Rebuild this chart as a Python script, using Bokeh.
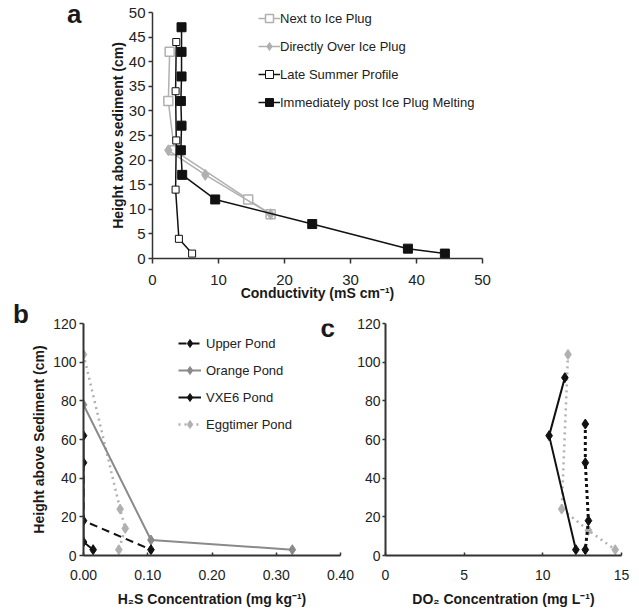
from bokeh.plotting import figure
from bokeh.layouts import column, row
from bokeh.models import Range1d, Legend, LegendItem, Label, FixedTicker, NumeralTickFormatter, Div
from bokeh.embed import file_html
from bokeh.resources import INLINE

FONT = "Liberation Sans"

# ---------------- data: panel a (conductivity) ----------------
next_x = [2.6, 2.4, 3.3, 14.5, 17.9]
next_y = [42, 32, 22, 12, 9]
over_x = [2.4, 8.0, 17.9]
over_y = [22, 17, 9]
late_x = [3.6, 3.5, 3.6, 3.5, 4.0, 6.0]
late_y = [44, 34, 24, 14, 4, 1]
post_x = [4.4, 4.4, 4.4, 4.3, 4.4, 4.3, 4.5, 9.5, 24.2, 38.7, 44.3]
post_y = [47, 42, 37, 32, 27, 22, 17, 12, 7, 2, 1]
a_xticks = [0, 10, 20, 30, 40, 50]
a_yticks = [0, 5, 10, 15, 20, 25, 30, 35, 40, 45, 50]

# ---------------- data: panel b (H2S) ----------------
b_upper_x = [0.0, 0.0, 0.105]
b_upper_y = [48, 18, 3]
b_orange_x = [0.0, 0.105, 0.325]
b_orange_y = [78, 8, 3]
b_vxe6_x = [0.0, 0.0, 0.015]
b_vxe6_y = [62, 7, 3]
b_egg_x = [0.0, 0.057, 0.065, 0.055]
b_egg_y = [104, 24, 14, 3]
b_xticks = [0.0, 0.1, 0.2, 0.3, 0.4]
bc_yticks = [0, 20, 40, 60, 80, 100, 120]

# ---------------- data: panel c (DO2) ----------------
c_upper_x = [12.7, 12.7, 12.9, 12.7]
c_upper_y = [68, 48, 18, 3]
c_vxe6_x = [11.4, 10.4, 12.1]
c_vxe6_y = [92, 62, 3]
c_egg_x = [11.6, 11.2, 12.9, 14.6]
c_egg_y = [104, 24, 13, 3]
c_xticks = [0, 5, 10, 15]

BLACK = "#111111"
GRAY = "#8a8a8a"
LGRAY = "#b0b0b0"
TXT = "#1a1a1a"


def style_axes(p, tick_size, line_w, x_tick_in, x_tick_out, x_standoff):
    p.outline_line_color = None
    p.xgrid.grid_line_color = None
    p.ygrid.grid_line_color = None
    for ax in (p.xaxis[0], p.yaxis[0]):
        ax.axis_line_color = "#333333"
        ax.axis_line_width = line_w
        ax.major_tick_line_color = "#333333"
        ax.major_tick_line_width = 1.5
        ax.minor_tick_line_color = None
        ax.major_label_text_font = FONT
        ax.major_label_text_font_size = tick_size
        ax.major_label_text_color = "#222222"
        ax.axis_label_text_font = FONT
        ax.axis_label_text_font_size = "14px"
        ax.axis_label_text_font_style = "bold"
        ax.axis_label_text_color = TXT
    p.yaxis.major_tick_in = 0
    p.yaxis.major_tick_out = 4
    p.yaxis.major_label_standoff = 3
    p.xaxis.major_tick_in = x_tick_in
    p.xaxis.major_tick_out = x_tick_out
    p.xaxis.major_label_standoff = x_standoff


def letter_div(letter, w, h, left, top):
    html = ('<div style="position:relative; left:%dpx; top:%dpx; font-family:\'Liberation Sans\', Arial, sans-serif; '
            'font-size:26px; font-weight:bold; line-height:26px; color:%s; margin:0; padding:0;">%s</div>'
            % (left, top, TXT, letter))
    return Div(text=html, width=w, height=h, margin=0)


# ================= panel a =================
HA = 304
div_a = letter_div("a", 100, HA, 67, 1)

pa = figure(width=539, height=HA, x_range=Range1d(0, 50), y_range=Range1d(0, 50),
            output_backend="svg", toolbar_location=None,
            min_border_left=52, min_border_right=157, min_border_top=12, min_border_bottom=46)
style_axes(pa, "15px", 1.5, 0, 5, 11)
pa.xaxis.ticker = FixedTicker(ticks=a_xticks)
pa.yaxis.ticker = FixedTicker(ticks=a_yticks)
pa.xaxis.axis_label = "Conductivity (mS cm⁻¹)"
pa.xaxis.axis_label_standoff = -3
pa.yaxis.axis_label = "Height above sediment (cm)"
pa.yaxis.axis_label_standoff = 0

l1 = pa.line(next_x, next_y, line_color=LGRAY, line_width=1.5)
m1 = pa.scatter(next_x, next_y, marker="square", size=9, fill_color="white", line_color=LGRAY, line_width=1.5)
l2 = pa.line(over_x, over_y, line_color=LGRAY, line_width=1.5)
m2 = pa.scatter(over_x, over_y, marker="diamond", size=11, fill_color=LGRAY, line_color=LGRAY)
l3 = pa.line(late_x, late_y, line_color=BLACK, line_width=1.5)
m3 = pa.scatter(late_x, late_y, marker="square", size=7, fill_color="white", line_color=BLACK, line_width=1)
l4 = pa.line(post_x, post_y, line_color=BLACK, line_width=1.5)
m4 = pa.scatter(post_x, post_y, marker="square", size=9, fill_color=BLACK, line_color=BLACK)

leg_a = Legend(items=[
    LegendItem(label="Next to Ice Plug", renderers=[l1, m1]),
    LegendItem(label="Directly Over Ice Plug", renderers=[l2, m2]),
    LegendItem(label="Late Summer Profile", renderers=[l3, m3]),
    LegendItem(label="Immediately post Ice Plug Melting", renderers=[l4, m4]),
], location=(106, 146), padding=0, margin=0, spacing=8, glyph_width=22, glyph_height=20,
    label_height=20, label_standoff=0, label_text_font=FONT, label_text_font_size="13px",
    label_text_color="#222222", background_fill_alpha=0, border_line_color=None)
pa.add_layout(leg_a, "center")

# ================= panel b =================
HB = 310
div_b = letter_div("b", 28, HB, 13, -3)

pb = figure(width=326, height=HB, x_range=Range1d(0, 0.4), y_range=Range1d(0, 120),
            output_backend="svg", toolbar_location=None,
            min_border_left=54, min_border_right=14, min_border_top=19, min_border_bottom=59)
style_axes(pb, "14px", 2, 3, 0, 14)
pb.xaxis.ticker = FixedTicker(ticks=b_xticks)
pb.yaxis.ticker = FixedTicker(ticks=bc_yticks)
pb.xaxis.formatter = NumeralTickFormatter(format="0.00")
pb.xaxis.axis_label = "H₂S Concentration (mg kg⁻¹)"
pb.xaxis.axis_label_standoff = 8
pb.yaxis.axis_label = "Height above Sediment (cm)"
pb.yaxis.axis_label_standoff = 3

eb = pb.line(b_egg_x, b_egg_y, line_color=LGRAY, line_width=2.5, line_dash="2 4")
ebm = pb.scatter(b_egg_x, b_egg_y, marker="diamond", size=10, fill_color=LGRAY, line_color=LGRAY)
ob = pb.line(b_orange_x, b_orange_y, line_color=GRAY, line_width=2)
obm = pb.scatter(b_orange_x, b_orange_y, marker="diamond", size=10, fill_color=GRAY, line_color=GRAY)
ub = pb.line(b_upper_x, b_upper_y, line_color=BLACK, line_width=2, line_dash="8 5")
ubm = pb.scatter(b_upper_x, b_upper_y, marker="diamond", size=10, fill_color=BLACK, line_color=BLACK)
vb = pb.line(b_vxe6_x, b_vxe6_y, line_color=BLACK, line_width=2)
vbm = pb.scatter(b_vxe6_x, b_vxe6_y, marker="diamond", size=10, fill_color=BLACK, line_color=BLACK)

leg_b = Legend(items=[
    LegendItem(label="Upper Pond", renderers=[ub, ubm]),
    LegendItem(label="Orange Pond", renderers=[ob, obm]),
    LegendItem(label="VXE6 Pond", renderers=[vb, vbm]),
    LegendItem(label="Eggtimer Pond", renderers=[eb, ebm]),
], location=(95, 121), padding=0, margin=0, spacing=7, glyph_width=23, glyph_height=20,
    label_height=20, label_standoff=5, label_text_font=FONT, label_text_font_size="13px",
    label_text_color="#222222", background_fill_alpha=0, border_line_color=None)
pb.add_layout(leg_b, "center")

pb.add_layout(Label(x=0.4, y=120, x_offset=-20, y_offset=-4, text="c", text_font=FONT,
                    text_font_size="26px", text_font_style="bold", text_color=TXT,
                    text_align="left", text_baseline="alphabetic"))

# ================= panel c =================
pc = figure(width=285, height=HB, x_range=Range1d(0, 15), y_range=Range1d(0, 120),
            output_backend="svg", toolbar_location=None,
            min_border_left=29, min_border_right=18, min_border_top=19, min_border_bottom=59)
style_axes(pc, "14px", 2, 3, 0, 14)
pc.xaxis.ticker = FixedTicker(ticks=c_xticks)
pc.yaxis.ticker = FixedTicker(ticks=bc_yticks)
pc.yaxis.major_tick_out = 3
pc.yaxis.major_label_standoff = 2
pc.xaxis.axis_label = "DO₂ Concentration (mg L⁻¹)"
pc.xaxis.axis_label_standoff = 8

pc.line(c_egg_x, c_egg_y, line_color=LGRAY, line_width=2.5, line_dash="2 4")
pc.scatter(c_egg_x, c_egg_y, marker="diamond", size=10, fill_color=LGRAY, line_color=LGRAY)
pc.line(c_vxe6_x, c_vxe6_y, line_color=BLACK, line_width=2)
pc.scatter(c_vxe6_x, c_vxe6_y, marker="diamond", size=10, fill_color=BLACK, line_color=BLACK)
pc.line(c_upper_x, c_upper_y, line_color=BLACK, line_width=3, line_dash="3 3")
pc.scatter(c_upper_x, c_upper_y, marker="diamond", size=10, fill_color=BLACK, line_color=BLACK)

layout = column(row(div_a, pa), row(div_b, pb, pc))
open("out.html", "w").write(file_html(layout, INLINE))
